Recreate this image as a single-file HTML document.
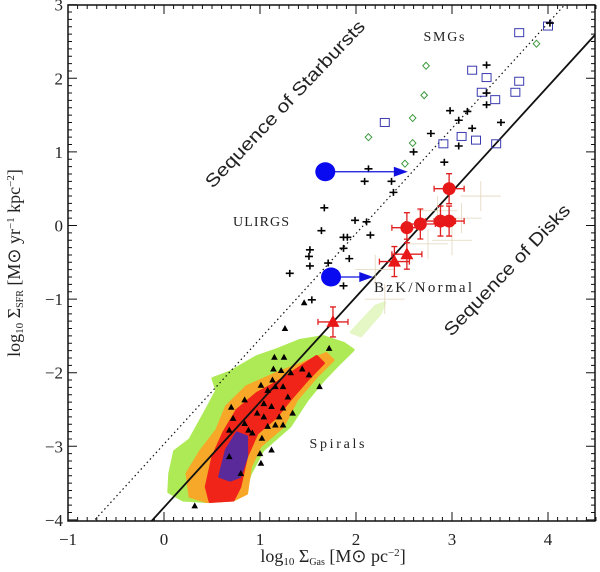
<!DOCTYPE html>
<html><head><meta charset="utf-8"><style>
html,body{margin:0;padding:0;background:#fff;width:600px;height:572px;overflow:hidden;}
svg{display:block;}
text{font-family:"Liberation Serif",serif;fill:#222;}
</style></head><body>
<svg id="chart" width="600" height="572" viewBox="0 0 600 572" xmlns="http://www.w3.org/2000/svg">
<defs><clipPath id="cp"><rect x="68" y="5" width="527" height="516"/></clipPath></defs>
<g id="regions"></g>
<g id="lines"></g>
<g id="marks"></g>
<g id="axes"></g>
<g font-size="14">
<text x="285" y="110" text-anchor="middle" transform="rotate(-46.5 285 104)" font-size="18" style="font-family:'Liberation Sans',sans-serif" textLength="223" lengthAdjust="spacingAndGlyphs">Sequence of Starbursts</text>
<text x="507" y="276" text-anchor="middle" transform="rotate(-46.4 507 270)" font-size="18" style="font-family:'Liberation Sans',sans-serif" textLength="174" lengthAdjust="spacingAndGlyphs">Sequence of Disks</text>
<text x="444" y="41" text-anchor="middle" textLength="41">SMGs</text>
<text x="261" y="226" text-anchor="middle" textLength="56">ULIRGS</text>
<text x="423" y="292" text-anchor="middle" font-size="15" textLength="98">BzK/Normal</text>
<text x="337" y="448" text-anchor="middle" textLength="55">Spirals</text>
</g>
<text x="333" y="562" text-anchor="middle" font-size="18">log<tspan font-size="11" dy="3">10</tspan><tspan dy="-3"> Σ</tspan><tspan font-size="10" dy="3">Gas</tspan><tspan dy="-3"> [M</tspan><tspan>⊙</tspan><tspan> pc</tspan><tspan font-size="11" dy="-6">−2</tspan><tspan dy="6">]</tspan></text>
<text x="20" y="263" text-anchor="middle" font-size="18" transform="rotate(-90 20 263)">log<tspan font-size="11" dy="3">10</tspan><tspan dy="-3"> Σ</tspan><tspan font-size="10" dy="3">SFR</tspan><tspan dy="-3">  [M⊙ yr</tspan><tspan font-size="11" dy="-6">−1</tspan><tspan dy="6"> kpc</tspan><tspan font-size="11" dy="-6">−2</tspan><tspan dy="6">]</tspan></text>
</svg>
<script>
const xTicks=[-1,0,1,2,3,4];
const yTicks=[-4,-3,-2,-1,0,1,2,3];
const xTickLabels=["−1","0","1","2","3","4"];
const yTickLabels=["−4","−3","−2","−1","0","1","2","3"];
const squaresX=[2.30,3.21,3.36,3.31,3.45,3.10,3.25,2.91,3.46,3.66,3.70,3.70,4.00];
const squaresY=[1.40,2.11,2.01,1.81,1.71,1.21,1.16,1.11,1.11,1.81,1.96,2.62,2.71];
const diamondsX=[2.13,2.59,2.59,2.51,2.71,2.73,3.88];
const diamondsY=[1.20,1.46,1.12,0.84,1.77,2.17,2.47];
const crossesX=[3.36,3.36,3.36,2.98,3.16,3.07,3.21,3.51,2.78,3.07,2.60,2.92,2.13,2.09,2.37,2.39,1.67,1.99,2.11,2.15,1.64,1.87,1.91,1.87,1.93,1.52,1.51,1.52,1.71,1.31,1.87,1.54,4.02];
const crossesY=[2.18,1.80,1.64,1.56,1.55,1.43,1.32,1.40,1.25,1.08,1.00,0.86,0.77,0.60,0.60,0.45,0.24,0.07,0.05,-0.13,-0.07,-0.16,-0.16,-0.31,-0.45,-0.33,-0.42,-0.55,-0.51,-0.65,-0.82,-1.01,2.75];
const redCirclesX=[2.97,2.53,2.67,2.88,2.97];
const redCirclesY=[0.50,-0.03,0.02,0.06,0.06];
const redTrianglesX=[2.40,2.53,1.76];
const redTrianglesY=[-0.49,-0.39,-1.31];
const blueX=[1.68,1.74];
const blueY=[0.73,-0.70];
const blueArrowTo=[2.54,2.18];
const triX=[0.32,0.70,0.84,1.01,1.15,1.25,1.14,1.22,1.32,1.44,1.51,1.62,1.26,1.72,1.13,1.16,1.08,1.24,1.29,1.04,1.12,1.24,0.97,1.04,1.20,1.34,0.72,0.84,0.88,0.68,0.92,1.02,1.00,1.12,1.01,0.80,0.68,1.16,1.24,1.08,1.46];
const triY=[-3.81,-2.47,-2.37,-2.17,-1.79,-1.79,-1.95,-1.97,-2.00,-1.95,-2.03,-2.19,-1.40,-1.67,-2.10,-2.19,-2.24,-2.19,-2.33,-2.42,-2.46,-2.48,-2.55,-2.60,-2.60,-2.55,-2.62,-2.69,-2.78,-2.78,-2.82,-2.89,-3.10,-3.05,-3.23,-3.37,-3.14,-2.71,-2.71,-2.73,-1.05];
const greenRegion=[[0.05,-3.62],[0.06,-3.37],[0.11,-3.07],[0.27,-2.91],[0.44,-2.51],[0.55,-2.24],[0.51,-2.08],[0.69,-1.99],[0.97,-1.78],[1.17,-1.69],[1.42,-1.56],[1.66,-1.51],[1.87,-1.60],[1.97,-1.69],[1.83,-1.87],[1.66,-2.10],[1.49,-2.37],[1.31,-2.73],[1.03,-3.05],[0.90,-3.37],[0.83,-3.64],[0.69,-3.73],[0.44,-3.75],[0.20,-3.73]];
const orangeRegion=[[0.24,-3.37],[0.38,-3.07],[0.55,-2.78],[0.65,-2.46],[0.86,-2.19],[1.17,-2.01],[1.45,-1.87],[1.69,-1.74],[1.76,-1.83],[1.59,-2.05],[1.38,-2.37],[1.24,-2.73],[1.00,-3.00],[0.90,-3.28],[0.86,-3.64],[0.72,-3.73],[0.44,-3.75],[0.27,-3.68]];
const redRegion=[[0.44,-3.55],[0.51,-3.14],[0.62,-2.82],[0.76,-2.51],[0.97,-2.28],[1.17,-2.14],[1.38,-1.96],[1.59,-1.78],[1.66,-1.87],[1.49,-2.10],[1.31,-2.37],[1.17,-2.60],[0.97,-2.82],[0.86,-3.14],[0.79,-3.55],[0.72,-3.73],[0.48,-3.75]];
const purpleRegion=[[0.58,-3.41],[0.65,-3.05],[0.76,-2.82],[0.86,-2.87],[0.86,-3.14],[0.79,-3.41],[0.69,-3.46]];
const faintGreen=[[1.95,-1.45],[2.2,-1.1],[2.3,-1.05],[2.25,-1.2],[2.05,-1.5]];
const disksSlope=1.43, disksIntercept=-3.83;
const burstSlope=1.43, burstIntercept=-2.97;

const X0=164,SX=96,Y0=225.5,SY=73.6;
const L=68,R=595,T=5,B=521;
const xs=v=>X0+v*SX, ys=v=>Y0-v*SY;
const NS="http://www.w3.org/2000/svg";
function mk(tag,parent,attrs){const e=document.createElementNS(NS,tag);for(const k in attrs)e.setAttribute(k,attrs[k]);parent.appendChild(e);return e;}
const gReg=document.getElementById('regions'),gL=document.getElementById('lines'),gM=document.getElementById('marks'),gA=document.getElementById('axes');

function poly(pts,fill,name){const p=mk('polygon',gReg,{points:pts.map(q=>xs(q[0])+','+ys(q[1])).join(' '),fill:fill,stroke:fill,'stroke-width':3,'stroke-linejoin':'round'});

}
poly(faintGreen,'#e4f7c4','faint-green-region');
poly(greenRegion,'#aeea55','green-density-region');
poly(orangeRegion,'#f7a828','orange-density-region');
poly(redRegion,'#f02418','red-density-region');
poly(purpleRegion,'#5a2a9a','purple-density-region');

function relLine(m,b,dash,name){const x1=-1,x2=4.5;const ln=mk('line',gL,{x1:xs(x1),y1:ys(m*x1+b),x2:xs(x2),y2:ys(m*x2+b),stroke:'#111','stroke-width':dash?1.2:1.8,'stroke-dasharray':dash?'1.5 3':'none','clip-path':'url(#cp)'});

}
relLine(disksSlope,disksIntercept,false,'disks-sequence-line');
relLine(burstSlope,burstIntercept,true,'starburst-sequence-line');

const brownX=[3.3,3.1,3.0,2.75,2.85,2.2,2.3];const brownY=[0.4,0.1,-0.2,-0.25,0.2,-0.6,-1.0];
brownX.forEach((v,i)=>{const g=mk('g',gM,{stroke:'#e2d6bc','stroke-width':0.8});


mk('line',g,{x1:xs(v)-20,y1:ys(brownY[i]),x2:xs(v)+20,y2:ys(brownY[i])});mk('line',g,{x1:xs(v),y1:ys(brownY[i])-15,x2:xs(v),y2:ys(brownY[i])+15});});

triX.forEach((v,i)=>{const x=xs(v),y=ys(triY[i]);const t=mk('polygon',gM,{points:`${x},${y-3.5} ${x-3.3},${y+2.5} ${x+3.3},${y+2.5}`,fill:'#000'});

});
squaresX.forEach((v,i)=>{const r=mk('rect',gM,{x:xs(v)-4.5,y:ys(squaresY[i])-4,width:9,height:8,fill:'none',stroke:'#3a3ab0','stroke-width':1});

});
diamondsX.forEach((v,i)=>{const x=xs(v),y=ys(diamondsY[i]);const d=mk('polygon',gM,{points:`${x},${y-3.5} ${x+3.3},${y} ${x},${y+3.5} ${x-3.3},${y}`,fill:'none',stroke:'#3a9a3a','stroke-width':1});

});
crossesX.forEach((v,i)=>{const x=xs(v),y=ys(crossesY[i]);const p=mk('path',gM,{d:`M${x-4},${y}H${x+4}M${x},${y-3.5}V${y+3.5}`,stroke:'#000','stroke-width':1.6});

});
function errbars(x,y){const g=mk('g',gM,{stroke:'#e02020','stroke-width':1.3});mk('path',g,{d:`M${x-15},${y}H${x+15}M${x-15},${y-3}V${y+3}M${x+15},${y-3}V${y+3}M${x},${y-15}V${y+15}M${x-3},${y-15}H${x+3}M${x-3},${y+15}H${x+3}`});return g;}
redCirclesX.forEach((v,i)=>{const x=xs(v),y=ys(redCirclesY[i]);const g=errbars(x,y);mk('circle',g,{cx:x,cy:y,r:6.5,fill:'#e81818',stroke:'none'});

});
redTrianglesX.forEach((v,i)=>{const x=xs(v),y=ys(redTrianglesY[i]);const g=errbars(x,y);mk('polygon',g,{points:`${x},${y-7} ${x-6.5},${y+5} ${x+6.5},${y+5}`,fill:'#e81818',stroke:'none'});

});
blueX.forEach((v,i)=>{const x=xs(v),y=ys(blueY[i]),x2=xs(blueArrowTo[i]);const g=mk('g',gM,{});


mk('line',g,{x1:x,y1:y,x2:x2-12,y2:y,stroke:'#1010e0','stroke-width':1.3});
mk('polygon',g,{points:`${x2},${y} ${x2-14},${y-5} ${x2-14},${y+5}`,fill:'#1010e0'});
mk('ellipse',g,{cx:x,cy:y,rx:10,ry:9.5,fill:'#0a0af0'});});

mk('rect',gA,{x:L,y:T,width:R-L,height:B-T,fill:'none',stroke:'#111','stroke-width':1.5});
let d='';
for(let v=-1;v<=4.5001;v+=0.1){const x=xs(v);const maj=Math.abs(v-Math.round(v))<1e-6;const l=maj?9:4;d+=`M${x},${B}V${B-l}M${x},${T}V${T+l}`;}
for(let v=-4;v<=3.0001;v+=0.1){const y=ys(v);const maj=Math.abs(v-Math.round(v))<1e-6;const l=maj?9:4;d+=`M${L},${y}H${L+l}M${R},${y}H${R-l}`;}
const tk=mk('path',gA,{d:d,stroke:'#111','stroke-width':1});


xTicks.forEach((v,i)=>{const t=mk('text',gA,{x:xs(v),y:545,'text-anchor':'middle','font-size':17});t.textContent=xTickLabels[i];

});
yTicks.forEach((v,i)=>{const t=mk('text',gA,{x:63,y:ys(v)+6,'text-anchor':'end','font-size':17});t.textContent=yTickLabels[i];

});
</script>
</body></html>
